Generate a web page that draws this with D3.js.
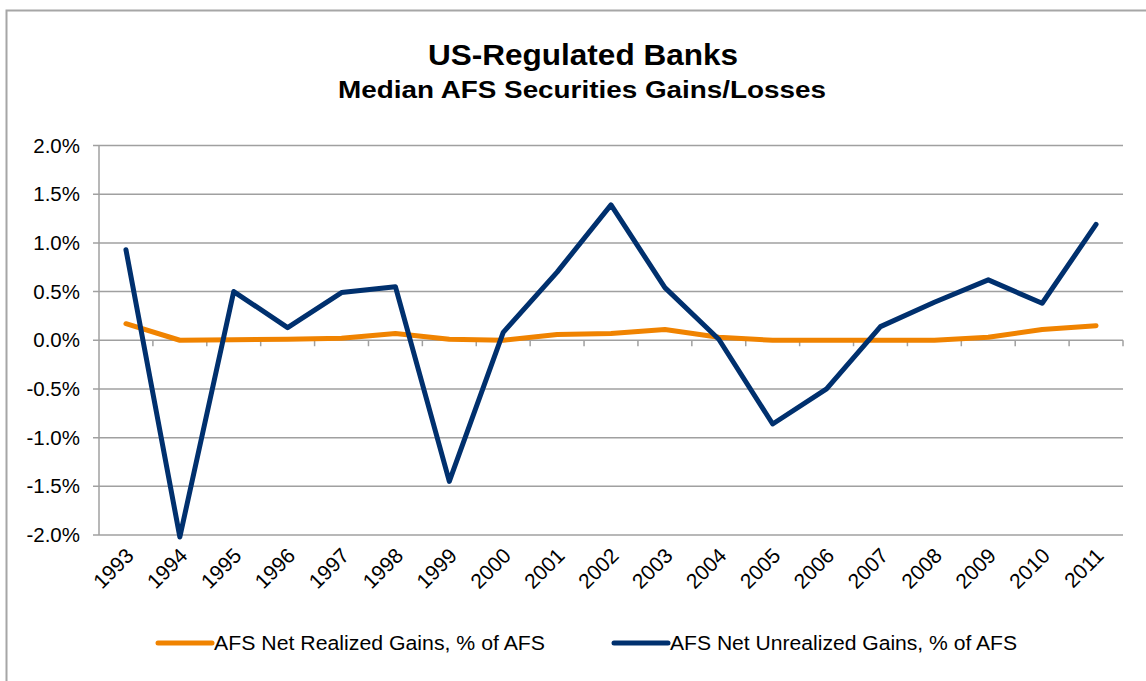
<!DOCTYPE html>
<html>
<head>
<meta charset="utf-8">
<script src="https://cdn.jsdelivr.net/npm/d3@7"></script>
<style>
  html, body { margin: 0; padding: 0; background: #fff; }
  svg { display: block; font-family: "Liberation Sans", Arial, sans-serif; }
</style>
</head>
<body>
<svg id="chart" width="1146" height="681"></svg>
<script>
const years = ["1993","1994","1995","1996","1997","1998","1999","2000","2001","2002","2003","2004","2005","2006","2007","2008","2009","2010","2011"];
const realized = [0.17, 0.00, 0.005, 0.01, 0.02, 0.07, 0.01, 0.00, 0.06, 0.07, 0.11, 0.03, 0.00, 0.00, 0.00, 0.00, 0.03, 0.11, 0.15];
const unrealized = [0.93, -2.02, 0.50, 0.13, 0.49, 0.55, -1.45, 0.08, 0.70, 1.39, 0.54, 0.01, -0.86, -0.50, 0.14, 0.39, 0.62, 0.38, 1.19];
const yTicks = [2.0, 1.5, 1.0, 0.5, 0.0, -0.5, -1.0, -1.5, -2.0];
const seriesNames = ["AFS Net Realized Gains, % of AFS", "AFS Net Unrealized Gains, % of AFS"];
const seriesColors = ["#F08300", "#00306E"];

const svg = d3.select("#chart");

// outer border
svg.append("rect").attr("x", 6.5).attr("y", 10.5).attr("width", 1160).attr("height", 700)
  .attr("fill", "none").attr("stroke", "#a6a6a6").attr("stroke-width", 2);

const plotLeft = 99, plotRight = 1123, plotTop = 145.5, plotBottom = 535;

const x = d3.scaleBand().domain(years).range([plotLeft, plotRight]).padding(0);
const y = d3.scaleLinear().domain([-2, 2]).range([plotBottom, plotTop]);

// gridlines
svg.append("g").selectAll("line").data(yTicks).join("line")
  .attr("x1", plotLeft - 6).attr("x2", plotRight)
  .attr("y1", d => y(d)).attr("y2", d => y(d))
  .attr("stroke", "#a0a0a0").attr("stroke-width", 1.5);

// y axis line
svg.append("line").attr("x1", plotLeft).attr("x2", plotLeft).attr("y1", plotTop).attr("y2", plotBottom)
  .attr("stroke", "#a0a0a0").attr("stroke-width", 1.5);

// y labels
svg.append("g").selectAll("text").data(yTicks).join("text")
  .attr("x", 80).attr("y", d => y(d)).attr("dy", "0.35em")
  .attr("text-anchor", "end").attr("font-size", 20.5).attr("fill", "#000")
  .text(d => d3.format(".1f")(d).replace("\u2212", "-") + "%");

// x axis at zero with tick marks at category boundaries
const boundaries = years.map(d => x(d)).concat([plotRight]);
svg.append("g").selectAll("line").data(boundaries.slice(1)).join("line")
  .attr("x1", d => d).attr("x2", d => d)
  .attr("y1", y(0)).attr("y2", y(0) + 6)
  .attr("stroke", "#a0a0a0").attr("stroke-width", 1.5);

// x labels rotated
svg.append("g").selectAll("text").data(years).join("text")
  .attr("transform", d => `translate(${x(d) + x.bandwidth() / 2 + 9},${plotBottom + 22}) rotate(-45)`)
  .attr("text-anchor", "end").attr("font-size", 21).attr("fill", "#000")
  .text(d => d);

// lines
const line = d3.line().x((d, i) => x(years[i]) + x.bandwidth() / 2).y(d => y(d));
[realized, unrealized].forEach((s, i) => {
  svg.append("path").datum(s).attr("d", line)
    .attr("fill", "none").attr("stroke", seriesColors[i]).attr("stroke-width", 5)
    .attr("stroke-linejoin", "round").attr("stroke-linecap", "round");
});

// title
svg.append("text").attr("x", 583).attr("y", 65).attr("text-anchor", "middle")
  .attr("font-size", 29).attr("font-weight", "bold")
  .attr("textLength", 310).attr("lengthAdjust", "spacingAndGlyphs")
  .text("US-Regulated Banks");
svg.append("text").attr("x", 582).attr("y", 98).attr("text-anchor", "middle")
  .attr("font-size", 23).attr("font-weight", "bold")
  .attr("textLength", 488).attr("lengthAdjust", "spacingAndGlyphs")
  .text("Median AFS Securities Gains/Losses");

// legend
const legendX = [158, 614];
const legendLen = [331, 347];
seriesNames.forEach((n, i) => {
  svg.append("line").attr("x1", legendX[i]).attr("x2", legendX[i] + 54)
    .attr("y1", 643).attr("y2", 643).attr("stroke", seriesColors[i])
    .attr("stroke-width", 5).attr("stroke-linecap", "round");
  svg.append("text").attr("x", legendX[i] + 56).attr("y", 643).attr("dy", "0.35em")
    .attr("font-size", 20.5).attr("fill", "#000")
    .attr("textLength", legendLen[i]).attr("lengthAdjust", "spacingAndGlyphs")
    .text(n);
});
</script>
</body>
</html>
